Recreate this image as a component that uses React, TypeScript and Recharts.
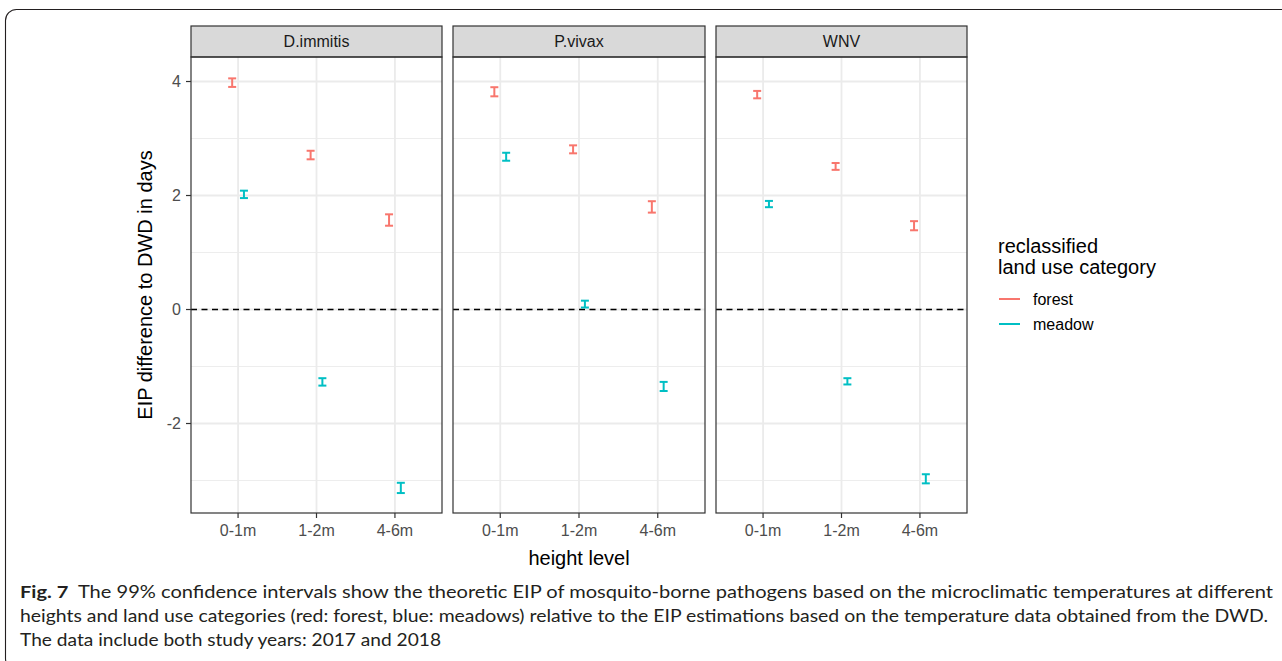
import React from 'react';
import { ScatterChart, Scatter, XAxis, YAxis, CartesianGrid, ReferenceLine, ErrorBar } from 'recharts';

const heights = ['0-1m', '1-2m', '4-6m'];
const pathogens = ['D.immitis', 'P.vivax', 'WNV'];
const landUse = ['forest', 'meadow'];
const landUseColors = ['#F8766D', '#00BFC4'];

// mean EIP difference (days) and half width of 99% CI, per height level
const dImmitisForest = [3.98, 2.71, 1.57];
const dImmitisForestCi = [0.075, 0.075, 0.1];
const dImmitisMeadow = [2.02, -1.27, -3.13];
const dImmitisMeadowCi = [0.065, 0.065, 0.09];

const pVivaxForest = [3.82, 2.81, 1.8];
const pVivaxForestCi = [0.08, 0.07, 0.1];
const pVivaxMeadow = [2.68, 0.095, -1.35];
const pVivaxMeadowCi = [0.07, 0.06, 0.08];

const wnvForest = [3.77, 2.51, 1.47];
const wnvForestCi = [0.065, 0.06, 0.08];
const wnvMeadow = [1.85, -1.26, -2.97];
const wnvMeadowCi = [0.055, 0.055, 0.08];

const yTicks = [-2, 0, 2, 4];
const yMinor = [-3, -1, 1, 3];

const panelMeans = [
  [dImmitisForest, dImmitisMeadow],
  [pVivaxForest, pVivaxMeadow],
  [wnvForest, wnvMeadow],
];
const panelCis = [
  [dImmitisForestCi, dImmitisMeadowCi],
  [pVivaxForestCi, pVivaxMeadowCi],
  [wnvForestCi, wnvMeadowCi],
];

const DODGE = 0.075;
const Y_DOMAIN = [-3.57, 4.43];
const X_DOMAIN = [0.4, 3.6];
const PANEL_TOP = 57;
const PANEL_H = 456;
const STRIP_TOP = 26;
const X_AXIS_H = 40;
const Y_AXIS_W = 40;
const panelLefts = [191, 453, 716];
const panelWidths = [251, 252, 251];
const xTickValues = heights.map((_, i) => i + 1);

const FONT = '"Liberation Sans", Arial, sans-serif';

function toPoints(means: number[], cis: number[], group: number) {
  const shift = group === 0 ? -DODGE : DODGE;
  return means.map((y, i) => ({ x: i + 1 + shift, y, ci: cis[i] }));
}

function Panel({ idx }: { idx: number }) {
  const showY = idx === 0;
  const yW = showY ? Y_AXIS_W : 0;
  const w = panelWidths[idx];
  return (
    <div style={{ position: 'absolute', left: panelLefts[idx] - yW, top: PANEL_TOP }}>
      <ScatterChart
        width={w + yW}
        height={PANEL_H + X_AXIS_H}
        margin={{ top: 0, right: 0, bottom: 0, left: 0 }}
      >
        <CartesianGrid
          horizontalValues={yMinor}
          vertical={false}
          stroke="#EBEBEB"
          strokeWidth={0.9}
        />
        <CartesianGrid
          horizontalValues={yTicks}
          verticalValues={xTickValues}
          stroke="#EBEBEB"
          strokeWidth={1.8}
        />
        <XAxis
          type="number"
          dataKey="x"
          domain={X_DOMAIN}
          ticks={xTickValues}
          allowDataOverflow
          height={X_AXIS_H}
          axisLine={false}
          tickLine={{ stroke: '#333333', strokeWidth: 1.2 }}
          tickSize={5}
          tickMargin={7}
          tickFormatter={(v: number) => heights[v - 1]}
          tick={{ fontSize: 16, fill: '#4D4D4D', fontFamily: FONT }}
        />
        <YAxis
          type="number"
          dataKey="y"
          domain={Y_DOMAIN}
          ticks={yTicks}
          allowDataOverflow
          hide={!showY}
          width={yW}
          axisLine={false}
          tickLine={{ stroke: '#333333', strokeWidth: 1.2 }}
          tickSize={5}
          tickMargin={5}
          tick={{ fontSize: 16, fill: '#4D4D4D', fontFamily: FONT }}
        />
        <ReferenceLine y={0} stroke="#000000" strokeWidth={1.3} strokeDasharray="6 4.5" />
        {landUse.map((name, g) => (
          <Scatter
            key={name}
            name={name}
            data={toPoints(panelMeans[idx][g], panelCis[idx][g], g)}
            fill={landUseColors[g]}
            shape={() => <g />}
            isAnimationActive={false}
          >
            <ErrorBar
              dataKey="ci"
              direction="y"
              width={4}
              strokeWidth={2}
              stroke={landUseColors[g]}
              isAnimationActive={false}
            />
          </Scatter>
        ))}
      </ScatterChart>
    </div>
  );
}

export default function App() {
  return (
    <div style={{ position: 'absolute', left: 0, top: 0, width: 1282, height: 661, overflow: 'hidden', background: '#fff' }}>
      {pathogens.map((p, i) => (
        <Panel key={p} idx={i} />
      ))}
      <svg
        width={1282}
        height={661}
        style={{ position: 'absolute', left: 0, top: 0, pointerEvents: 'none' }}
      >
        <rect x={5.5} y={9.5} width={1320} height={660} rx={11} fill="none" stroke="#231F20" strokeWidth={1.1} />
        {pathogens.map((p, i) => (
          <g key={p}>
            <rect
              x={panelLefts[i]}
              y={STRIP_TOP}
              width={panelWidths[i]}
              height={PANEL_TOP - STRIP_TOP}
              fill="#D9D9D9"
              stroke="#333333"
              strokeWidth={1.2}
            />
            <text
              x={panelLefts[i] + panelWidths[i] / 2}
              y={47}
              textAnchor="middle"
              fontSize={16}
              fill="#1A1A1A"
              fontFamily={FONT}
            >
              {p}
            </text>
            <rect
              x={panelLefts[i]}
              y={PANEL_TOP}
              width={panelWidths[i]}
              height={PANEL_H}
              fill="none"
              stroke="#333333"
              strokeWidth={1.2}
            />
          </g>
        ))}
        <text
          transform="translate(152 285) rotate(-90)"
          textAnchor="middle"
          fontSize={20}
          fill="#000"
          fontFamily={FONT}
        >
          EIP difference to DWD in days
        </text>
        <text x={579} y={565} textAnchor="middle" fontSize={20} fill="#000" fontFamily={FONT}>
          height level
        </text>
        <text x={998} y={253} fontSize={20} fill="#000" fontFamily={FONT}>reclassified</text>
        <text x={998} y={274} fontSize={20} fill="#000" fontFamily={FONT}>land use category</text>
        {landUse.map((name, g) => (
          <g key={name}>
            <line
              x1={999}
              x2={1020}
              y1={299 + g * 25}
              y2={299 + g * 25}
              stroke={landUseColors[g]}
              strokeWidth={2}
            />
            <text x={1033} y={305 + g * 25} fontSize={16} fill="#000" fontFamily={FONT}>
              {name}
            </text>
          </g>
        ))}
        <g fontFamily='Lato, "Open Sans", sans-serif' fontSize={17} fill="#231F20">
          <text x={20} y={598} textLength={1253} lengthAdjust="spacingAndGlyphs">
            <tspan fontWeight="bold">Fig. 7</tspan>
            <tspan>{'\u00a0\u00a0The 99% confidence intervals show the theoretic EIP of mosquito-borne pathogens based on the microclimatic temperatures at different'}</tspan>
          </text>
          <text x={20} y={622} textLength={1248} lengthAdjust="spacingAndGlyphs">
            heights and land use categories (red: forest, blue: meadows) relative to the EIP estimations based on the temperature data obtained from the DWD.
          </text>
          <text x={20} y={646} textLength={421} lengthAdjust="spacingAndGlyphs">
            The data include both study years: 2017 and 2018
          </text>
        </g>
      </svg>
    </div>
  );
}
